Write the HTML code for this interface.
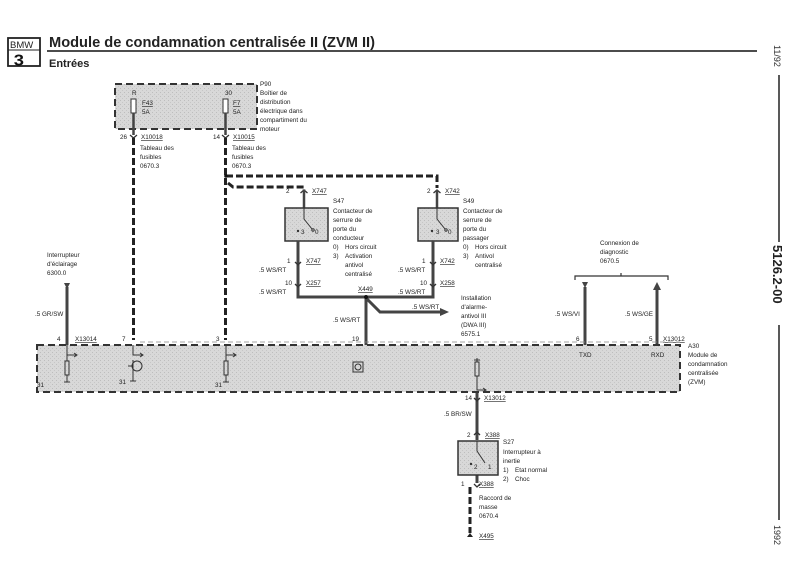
<!DOCTYPE html>
<html><head><meta charset="utf-8"><style>
html,body{margin:0;padding:0;background:#fff;}
svg{display:block;font-family:"Liberation Sans",sans-serif;}
.t{font-size:6.3px;fill:#222;}
.u{text-decoration:underline;}
</style></head><body>
<svg width="800" height="568" viewBox="0 0 800 568">
<defs>
<pattern id="g" width="4" height="4" patternUnits="userSpaceOnUse">
<rect width="4" height="4" fill="#d8d8d8"/><rect width="1" height="1" fill="#bdbdbd"/><rect x="2" y="2" width="1" height="1" fill="#c6c6c6"/>
</pattern>
</defs>
<!-- header -->
<rect x="8" y="38" width="32" height="28" fill="#fff" stroke="#222" stroke-width="1.8"/>
<line x1="8" y1="50" x2="40" y2="50" stroke="#222" stroke-width="1"/>
<text x="10" y="48" font-size="9.5" fill="#222">BMW</text>
<text x="14" y="65.5" font-size="16" font-weight="bold" fill="#111" transform="scale(1.15,1) translate(-2,0)">3</text>
<text x="49" y="47" font-size="14.5" font-weight="bold" fill="#222" textLength="326" lengthAdjust="spacingAndGlyphs">Module de condamnation centralisée II (ZVM II)</text>
<line x1="47" y1="51" x2="757" y2="51" stroke="#333" stroke-width="1.8"/>
<text x="49" y="67" font-size="11" font-weight="bold" fill="#222">Entrées</text>
<!-- right side -->
<line x1="779" y1="75" x2="779" y2="242" stroke="#222" stroke-width="1.5"/>
<line x1="779" y1="325" x2="779" y2="520" stroke="#222" stroke-width="1.5"/>
<text transform="translate(774,45) rotate(90)" font-size="9" fill="#333">11/92</text>
<text transform="translate(773,245) rotate(90)" font-size="13" font-weight="bold" fill="#222">5126.2-00</text>
<text transform="translate(774,525) rotate(90)" font-size="9" fill="#333">1992</text>

<!-- P90 box -->
<rect x="115" y="84" width="142" height="45" fill="url(#g)" stroke="#333" stroke-width="2" stroke-dasharray="7,4"/>
<text class="t" x="260" y="86">P90</text>
<text class="t" x="260" y="95">Boîtier de</text>
<text class="t" x="260" y="104">distribution</text>
<text class="t" x="260" y="113">électrique dans</text>
<text class="t" x="260" y="122">compartiment du</text>
<text class="t" x="260" y="131">moteur</text>
<rect x="131" y="99" width="5" height="14" fill="#fff" stroke="#333"/>
<rect x="223" y="99" width="5" height="14" fill="#fff" stroke="#333"/>
<text class="t" x="132" y="95">R</text><text class="t" x="225" y="95">30</text>
<text class="t u" x="142" y="105">F43</text><text class="t" x="142" y="114">5A</text>
<text class="t u" x="233" y="105">F7</text><text class="t" x="233" y="114">5A</text>
<line x1="133.5" y1="113" x2="133.5" y2="135" stroke="#444" stroke-width="2.5"/>
<line x1="225.5" y1="113" x2="225.5" y2="135" stroke="#444" stroke-width="2.5"/>
<text class="t" x="120" y="139">26</text><text class="t u" x="141" y="139">X10018</text>
<text class="t" x="140" y="150">Tableau des</text><text class="t" x="140" y="159">fusibles</text><text class="t" x="140" y="168">0670.3</text>
<text class="t" x="213" y="139">14</text><text class="t u" x="233" y="139">X10015</text>
<text class="t" x="232" y="150">Tableau des</text><text class="t" x="232" y="159">fusibles</text><text class="t" x="232" y="168">0670.3</text>
<path d="M130,135 l3.5,3 l3.5,-3 M222,135 l3.5,3 l3.5,-3" stroke="#333" fill="none" stroke-width="1.3"/>
<!-- dashed wires -->
<g stroke="#222" stroke-width="3" fill="none" stroke-dasharray="7,3">
<line x1="133.5" y1="138" x2="133.5" y2="340"/>
<line x1="225.5" y1="138" x2="225.5" y2="340"/>
<polyline points="226,176 437,176 437,188"/>
<polyline points="228,183 233,187 304,187 304,190" />
</g>
<circle cx="226" cy="176" r="1.8" fill="#111"/>
<!-- S47 -->
<path d="M300.5,193 l3.5,-3 l3.5,3 M433.5,193 l3.5,-3 l3.5,3" stroke="#333" fill="none" stroke-width="1.3"/>
<line x1="304" y1="190" x2="304" y2="208" stroke="#444" stroke-width="2.5"/>
<text class="t" x="286" y="193">2</text><text class="t u" x="312" y="193">X747</text>
<rect x="285" y="208" width="43" height="33" fill="url(#g)" stroke="#333" stroke-width="1.5"/>
<path d="M304,208 v11 l8,10" stroke="#333" fill="none"/><circle cx="313" cy="230" r="1.2" fill="none" stroke="#333"/>
<circle cx="298" cy="231" r="1.2" fill="#333"/>
<text class="t" x="301" y="234">3</text><text class="t" x="315" y="234">0</text>
<text class="t" x="333" y="203">S47</text>
<text class="t" x="333" y="213">Contacteur de</text>
<text class="t" x="333" y="222">serrure de</text>
<text class="t" x="333" y="231">porte du</text>
<text class="t" x="333" y="240">conducteur</text>
<text class="t" x="333" y="249">0)</text><text class="t" x="345" y="249">Hors circuit</text>
<text class="t" x="333" y="258">3)</text><text class="t" x="345" y="258">Activation</text>
<text class="t" x="345" y="267">antivol</text>
<text class="t" x="345" y="276">centralisé</text>
<!-- S49 -->
<line x1="437" y1="190" x2="437" y2="208" stroke="#444" stroke-width="2.5"/>
<text class="t" x="427" y="193">2</text><text class="t u" x="445" y="193">X742</text>
<rect x="418" y="208" width="40" height="33" fill="url(#g)" stroke="#333" stroke-width="1.5"/>
<path d="M437,208 v11 l8,10" stroke="#333" fill="none"/><circle cx="446" cy="230" r="1.2" fill="none" stroke="#333"/>
<circle cx="432" cy="231" r="1.2" fill="#333"/>
<text class="t" x="436" y="234">3</text><text class="t" x="448" y="234">0</text>
<text class="t" x="463" y="203">S49</text>
<text class="t" x="463" y="213">Contacteur de</text>
<text class="t" x="463" y="222">serrure de</text>
<text class="t" x="463" y="231">porte du</text>
<text class="t" x="463" y="240">passager</text>
<text class="t" x="463" y="249">0)</text><text class="t" x="475" y="249">Hors circuit</text>
<text class="t" x="463" y="258">3)</text><text class="t" x="475" y="258">Antivol</text>
<text class="t" x="475" y="267">centralisé</text>
<!-- solid wires -->
<g stroke="#444" stroke-width="3" fill="none">
<polyline points="298,241 298,297 433,297 433,241"/>
<line x1="366" y1="297" x2="366" y2="345"/>
<polyline points="366,298 380,312 442,312"/>
<line x1="67" y1="287" x2="67" y2="345"/>
<line x1="585" y1="287" x2="585" y2="345"/>
<line x1="657" y1="290" x2="657" y2="345"/>
<line x1="477" y1="392" x2="477" y2="440"/>
<line x1="477" y1="470" x2="477" y2="483"/>
</g>
<polygon points="440,308 449,312 440,316" fill="#444"/>
<polygon points="653,290 657,282 661,290" fill="#444"/>
<polygon points="582,282 588,282 585,288" fill="#444"/>
<polygon points="64,283 70,283 67,289" fill="#444"/>
<circle cx="366" cy="297" r="2" fill="#111"/>
<g stroke="#333" fill="none" stroke-width="1.3">
<path d="M295,262 l3,3 l3,-3 M295,284 l3,3 l3,-3 M430,262 l3,3 l3,-3 M430,284 l3,3 l3,-3"/>
</g>
<text class="t" x="287" y="263">1</text><text class="t u" x="306" y="263">X747</text>
<text class="t" x="259" y="272">.5 WS/RT</text>
<text class="t" x="285" y="285">10</text><text class="t u" x="306" y="285">X257</text>
<text class="t" x="259" y="294">.5 WS/RT</text>
<text class="t u" x="358" y="291">X449</text>
<text class="t" x="422" y="263">1</text><text class="t u" x="440" y="263">X742</text>
<text class="t" x="398" y="272">.5 WS/RT</text>
<text class="t" x="420" y="285">10</text><text class="t u" x="440" y="285">X258</text>
<text class="t" x="398" y="294">.5 WS/RT</text>
<text class="t" x="333" y="322">.5 WS/RT</text>
<text class="t" x="412" y="309">.5 WS/RT</text>
<text class="t" x="461" y="300">Installation</text>
<text class="t" x="461" y="309">d'alarme-</text>
<text class="t" x="461" y="318">antivol III</text>
<text class="t" x="461" y="327">(DWA III)</text>
<text class="t" x="461" y="336">6575.1</text>
<!-- light switch -->
<text class="t" x="47" y="257">Interrupteur</text>
<text class="t" x="47" y="266">d'éclairage</text>
<text class="t" x="47" y="275">6300.0</text>
<text class="t" x="35" y="316">.5 GR/SW</text>
<text class="t" x="57" y="341">4</text><text class="t u" x="75" y="341">X13014</text>
<text class="t" x="122" y="341">7</text>
<text class="t" x="216" y="341">3</text>
<text class="t" x="352" y="341">19</text>
<!-- diagnostic -->
<text class="t" x="600" y="245">Connexion de</text>
<text class="t" x="600" y="254">diagnostic</text>
<text class="t" x="600" y="263">0670.5</text>
<path d="M575,280 v-4 h93 v4 M621,276 v-3" stroke="#333" fill="none" stroke-width="1.2"/>
<text class="t" x="555" y="316">.5 WS/VI</text>
<text class="t" x="625" y="316">.5 WS/GE</text>
<text class="t" x="576" y="341">6</text>
<text class="t" x="649" y="341">5</text><text class="t u" x="663" y="341">X13012</text>
<!-- A30 -->
<line x1="140" y1="342" x2="680" y2="342" stroke="#888" stroke-width="0.8" stroke-dasharray="5,3"/>
<rect x="37" y="345" width="643" height="47" fill="url(#g)" stroke="#333" stroke-width="2" stroke-dasharray="7,4"/>
<text class="t" x="688" y="348">A30</text>
<text class="t" x="688" y="357">Module de</text>
<text class="t" x="688" y="366">condamnation</text>
<text class="t" x="688" y="375">centralisée</text>
<text class="t" x="688" y="384">(ZVM)</text>
<text class="t" x="579" y="357">TXD</text><text class="t" x="651" y="357">RXD</text>
<g stroke="#333" fill="none" stroke-width="1">
<path d="M67,345 v10 h10 M74,353 l3,2 l-3,2 M67,355 v6 M67,375 v7"/>
<rect x="65" y="361" width="4" height="14"/>
<path d="M64,382 h6 M226,345 v10 h10 M233,353 l3,2 l-3,2 M226,355 v6 M226,375 v7 M223,382 h6"/>
<rect x="224" y="361" width="4" height="14"/>
<path d="M133,345 v10 h10 M140,353 l3,2 l-3,2 M133,360 v13 M133,373 v8 M130,381 h6"/>
<circle cx="137" cy="366" r="5"/>
<path d="M128,366 h4"/>
<rect x="353" y="362" width="10" height="10"/><circle cx="358" cy="367" r="3"/>
<path d="M477,358 v4 M474,360 h6 M477,376 v14 h8 M483,388 l3,2 l-3,2"/>
<rect x="475" y="362" width="4" height="14"/>
</g>
<text class="t" x="37" y="387">31</text><text class="t" x="119" y="384">31</text><text class="t" x="215" y="387">31</text>
<!-- S27 -->
<path d="M474,398 l3,3 l3,-3 M474,435 l3,-3 l3,3 M474,484 l3,3 l3,-3" stroke="#333" fill="none" stroke-width="1.3"/>
<text class="t" x="465" y="400">14</text><text class="t u" x="484" y="400">X13012</text>
<text class="t" x="444" y="416">.5 BR/SW</text>
<text class="t" x="467" y="437">2</text><text class="t u" x="485" y="437">X388</text>
<rect x="458" y="441" width="40" height="34" fill="url(#g)" stroke="#333" stroke-width="1.5"/>
<path d="M477,441 v10 l8,12" stroke="#333" fill="none"/><circle cx="471" cy="464" r="1.2" fill="#333"/>
<text class="t" x="474" y="469">2</text><text class="t" x="488" y="469">1</text>
<text class="t" x="503" y="444">S27</text>
<text class="t" x="503" y="454">Interrupteur à</text>
<text class="t" x="503" y="463">inertie</text>
<text class="t" x="503" y="472">1)</text><text class="t" x="515" y="472">Etat normal</text>
<text class="t" x="503" y="481">2)</text><text class="t" x="515" y="481">Choc</text>
<text class="t" x="461" y="486">1</text><text class="t u" x="479" y="486">X388</text>
<line x1="470" y1="487" x2="470" y2="533" stroke="#222" stroke-width="3" stroke-dasharray="7,3"/>
<path d="M467,537 h6 l-3,-4 z" fill="#222"/>
<text class="t" x="479" y="500">Raccord de</text>
<text class="t" x="479" y="509">masse</text>
<text class="t" x="479" y="518">0670.4</text>
<text class="t u" x="479" y="538">X495</text>
</svg>
</body></html>
